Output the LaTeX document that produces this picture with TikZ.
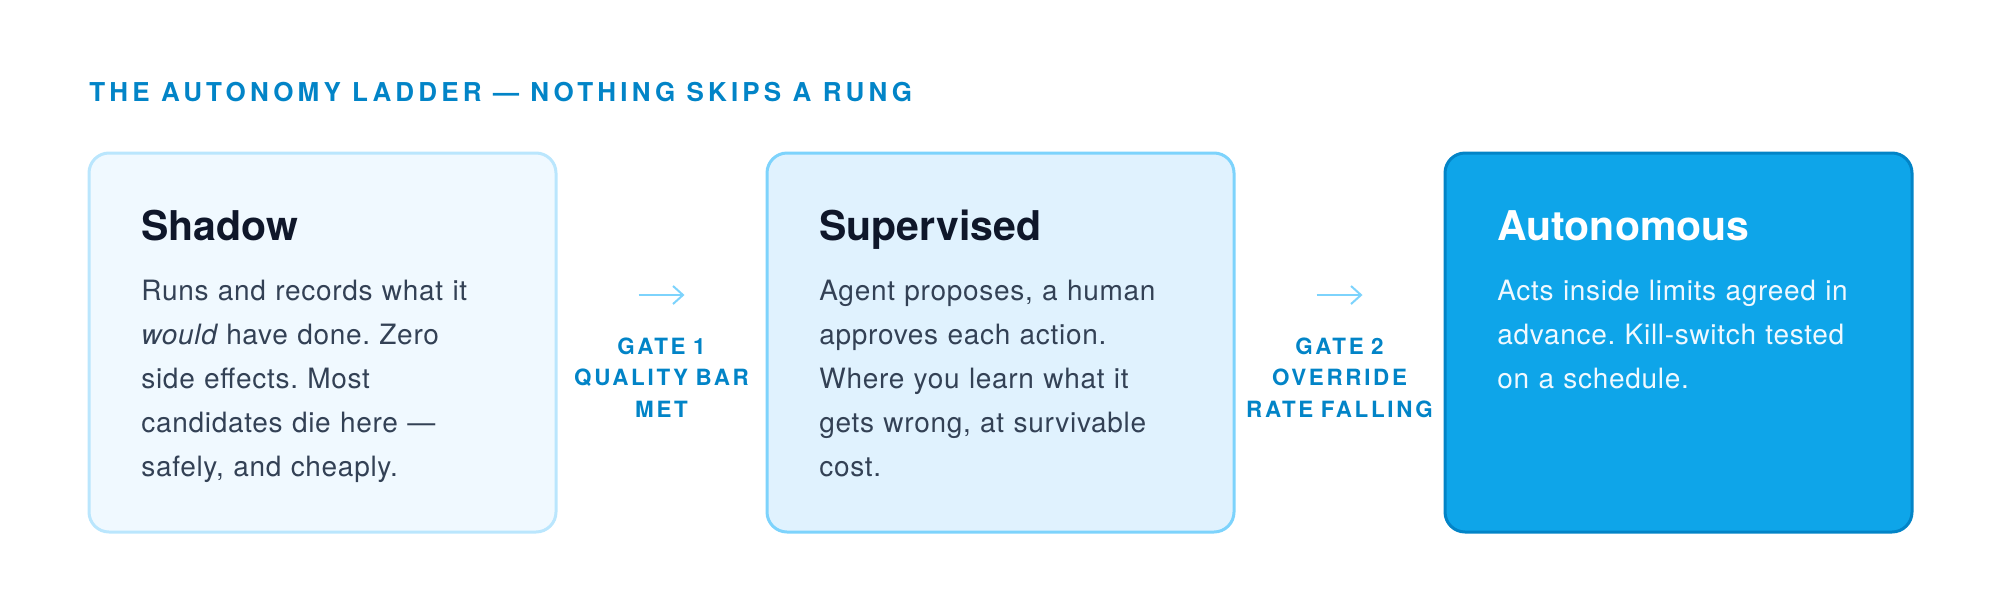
\documentclass[tikz,border=0pt]{standalone}
\usepackage{fontspec}
\setmainfont{TeX Gyre Heros}
\newfontfamily\trackedfont[LetterSpace=16]{TeX Gyre Heros}
\newfontfamily\gatefont[LetterSpace=12]{TeX Gyre Heros}
\newfontfamily\bodyfont[LetterSpace=2.5]{TeX Gyre Heros}
\usetikzlibrary{arrows.meta,positioning,calc}
\frenchspacing

\definecolor{paleFill}{HTML}{F0F9FF}
\definecolor{paleLine}{HTML}{BAE6FD}
\definecolor{softFill}{HTML}{E0F2FE}
\definecolor{softLine}{HTML}{7DD3FC}
\definecolor{deepFill}{HTML}{0EA5E9}
\definecolor{deepLine}{HTML}{0284C7}
\definecolor{ink}{HTML}{0F172A}
\definecolor{slate}{HTML}{334155}

\tikzset{
  ladder title/.style={text=deepLine, inner sep=0pt, font=\trackedfont\bfseries\fontsize{13}{15}\selectfont},
  rung/.style={rectangle, rounded corners=10pt, line width=1.5pt, minimum width=233.5pt, minimum height=189.5pt, inner sep=0pt, outer sep=0pt},
  rung head/.style={inner sep=0pt, font=\bfseries\fontsize{20.5}{24}\selectfont},
  rung body/.style={inner sep=0pt, text width=200pt, align=left, font=\bodyfont\fontsize{14}{22}\selectfont},
  gate/.style={inner sep=0pt, text width=110pt, align=center, text=deepLine, font=\gatefont\bfseries\fontsize{11.2}{15.75}\selectfont},
  gate arrow/.style={draw=softLine, line width=1pt, -{Straight Barb[length=5pt,width=9pt]}}
}

\begin{document}
\begin{tikzpicture}[x=0.5pt, y=-0.5pt]
    \useasboundingbox (0,0) rectangle (2000,600);

    % Title
    \node[ladder title, anchor=base west] (title) at (89,101) {THE AUTONOMY LADDER — NOTHING SKIPS A RUNG};

    % The three rungs
    \node[rung, fill=paleFill, draw=paleLine] (shadow) at (322.5,342.5) {};
    \node[rung, fill=softFill, draw=softLine, right=105.5pt of shadow] (super) {};
    \node[rung, fill=deepFill, draw=deepLine, right=105.5pt of super] (auto) {};

    % Headings
    \foreach \r/\h/\c in {shadow/Shadow/ink, super/Supervised/ink, auto/Autonomous/white}
        \node[rung head, text=\c, anchor=base west] (\r-head) at ($(\r.north west)+(52,87)$) {\h};

    % Descriptions
    \node[rung body, text=slate, anchor=base west] (shadow-body) at ($(shadow.north west)+(52,147)$)
        {Runs and records what it\\ {\itshape would} have done. Zero\\ side effects. Most\\ candidates die here —\\ safely, and cheaply.};
    \node[rung body, text=slate, anchor=base west] (super-body) at ($(super.north west)+(52,147)$)
        {Agent proposes, a human\\ approves each action.\\ Where you learn what it\\ gets wrong, at survivable\\ cost.};
    \node[rung body, text=paleFill, anchor=base west] (auto-body) at ($(auto.north west)+(52,147)$)
        {Acts inside limits agreed in\\ advance. Kill-switch tested\\ on a schedule.};

    % Gates between rungs
    \foreach \a/\b/\g/\t in {shadow/super/gate1/{GATE 1\\QUALITY BAR\\MET}, super/auto/gate2/{GATE 2\\OVERRIDE\\RATE FALLING}} {
        \node[gate, anchor=base] (\g) at ($(\a.east)!0.5!(\b.west)+(0,11.5)$) {\t};
        \coordinate (\g-from) at ($(\g.base)+(-23,-59)$);
        \coordinate (\g-to) at ($(\g.base)+(23,-59)$);
        \draw[gate arrow] (\g-from) -- (\g-to);
    }
\end{tikzpicture}
\end{document}
